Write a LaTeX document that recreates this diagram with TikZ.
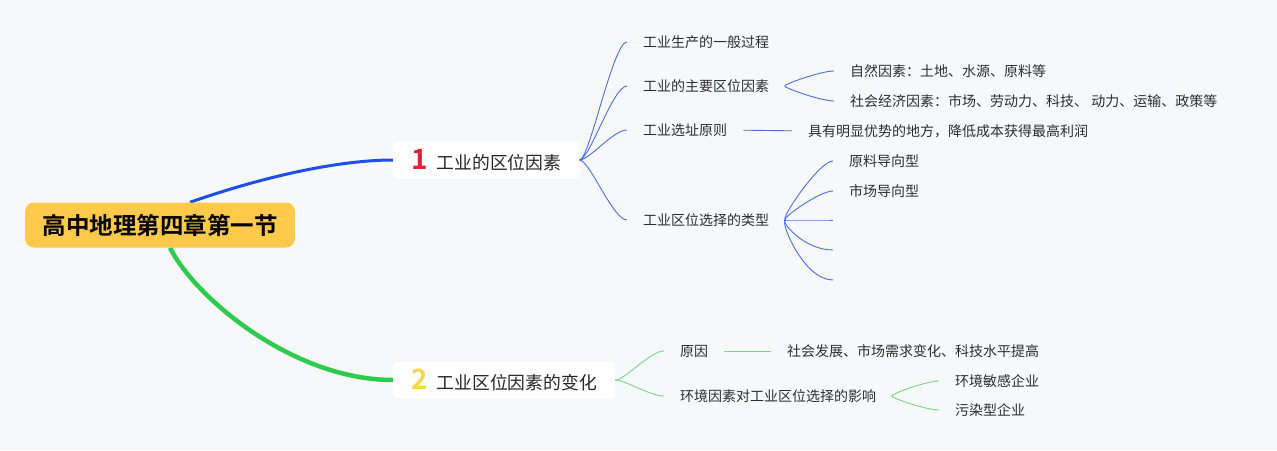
\documentclass[tikz,border=0pt]{standalone}
\usepackage{fontspec}
\setmainfont{Noto Sans CJK SC}[BoldFont={Noto Sans CJK SC Bold}]
\usetikzlibrary{positioning, calc, backgrounds}
\definecolor{bgcol}{HTML}{F7F8FA}
\definecolor{rootcol}{HTML}{FFC94B}
\definecolor{blueA}{HTML}{1F4FE6}
\definecolor{blueB}{HTML}{4A70E0}
\definecolor{greenA}{HTML}{2FCB4E}
\definecolor{greenB}{HTML}{76D782}
\definecolor{numred}{HTML}{DC233C}
\definecolor{numyel}{HTML}{F2D750}
\definecolor{leaftext}{HTML}{2E2E2E}
\tikzset{
    leaf/.style={anchor=west, inner xsep=0pt, inner ysep=2pt, text=leaftext, font=\fontsize{14}{16}\selectfont},
    fan/.style={out=0, in=180, out distance=10pt, in distance=30pt, shorten >=16pt},
    gap/.style={shorten <=16pt}
}

\begin{document}
\begin{tikzpicture}[x=1pt, y=-1pt,
    rootbox/.style={rectangle, fill=rootcol, rounded corners=9pt, minimum width=270pt, minimum height=45pt, inner sep=0pt, font=\fontsize{23.5}{26}\selectfont\bfseries},
    topicbox/.style={rectangle, fill=white, rounded corners=3pt, anchor=west, minimum height=37pt, inner xsep=18pt, font=\fontsize{17.8}{20}\selectfont, text=black!85},
    trunkA/.style={draw=blueA, line width=3pt},
    trunkB/.style={draw=greenA, line width=4.5pt},
    twigA/.style={draw=blueB, line width=0.9pt},
    twigB/.style={draw=greenB, line width=0.9pt}]

    \useasboundingbox (0,0) rectangle (1277,450);

    % Root
    \node (root) [rootbox] at (160,225) {高中地理第四章第一节};

    % Main topics
    \node (ta) [topicbox] at (393,160) {{\fontsize{28}{28}\selectfont\bfseries\color{numred}1}\hspace{9pt}工业的区位因素};
    \node (tb) [topicbox] at (393,380) {{\fontsize{28}{28}\selectfont\bfseries\color{numyel}2}\hspace{9pt}工业区位因素的变化};

    % Topic 1: subtopics
    \node (a1) [leaf] at (643,42) {工业生产的一般过程};
    \node (a2) [leaf] at (643,86) {工业的主要区位因素};
    \node (a3) [leaf] at (643,130) {工业选址原则};
    \node (a4) [leaf] at (643,220) {工业区位选择的类型};

    \node (a21) [leaf] at (850,71) {自然因素：土地、水源、原料等};
    \node (a22) [leaf] at (850,101) {社会经济因素：市场、劳动力、科技、 动力、运输、政策等};
    \node (a31) [leaf] at (808,131) {具有明显优势的地方，降低成本获得最高利润};
    \node (a41) [leaf] at (849,161) {原料导向型};
    \node (a42) [leaf] at (849,191) {市场导向型};
    \coordinate (a43) at (833,220);
    \coordinate (a44) at (833,250);
    \coordinate (a45) at (833,280);

    % Topic 2: subtopics
    \node (b1) [leaf] at (680,351) {原因};
    \node (b2) [leaf] at (680,396) {环境因素对工业区位选择的影响};
    \node (b11) [leaf] at (787,351) {社会发展、市场需求变化、科技水平提高};
    \node (b21) [leaf] at (955,381) {环境敏感企业};
    \node (b22) [leaf] at (955,410) {污染型企业};

    % Background and trunks
    \begin{scope}[on background layer]
        \fill [bgcol] (0,0) rectangle (1277,450);
        \draw [trunkA] ([xshift=30pt]root.north) .. controls +(80,-28) and +(-50,0) .. (ta.west);
        \draw [trunkB] ([xshift=10pt]root.south) .. controls +(25,50) and +(-100,0) .. (tb.west);
    \end{scope}

    % Connectors, topic 1
    \draw [twigA, fan] (ta.east) to (a1.west);
    \draw [twigA, fan] (ta.east) to (a2.west);
    \draw [twigA, fan] (ta.east) to (a3.west);
    \draw [twigA, fan] (ta.east) to (a4.west);

    \draw [twigA, fan, gap] (a2.east) to (a21.west);
    \draw [twigA, fan, gap] (a2.east) to (a22.west);
    \draw [twigA, gap, shorten >=16pt] (a3.east) -- (a31.west);
    \draw [twigA, fan, gap] (a4.east) to (a41.west);
    \draw [twigA, fan, gap] (a4.east) to (a42.west);
    \draw [twigA, fan, gap, shorten >=0pt] (a4.east) to (a43);
    \draw [twigA, fan, gap, shorten >=0pt] (a4.east) to (a44);
    \draw [twigA, fan, gap, shorten >=0pt] (a4.east) to (a45);

    % Connectors, topic 2
    \draw [twigB, fan] (tb.east) to (b1.west);
    \draw [twigB, fan] (tb.east) to (b2.west);
    \draw [twigB, gap, shorten >=16pt] (b1.east) -- (b11.west);
    \draw [twigB, fan, gap] (b2.east) to (b21.west);
    \draw [twigB, fan, gap] (b2.east) to (b22.west);
\end{tikzpicture}
\end{document}
